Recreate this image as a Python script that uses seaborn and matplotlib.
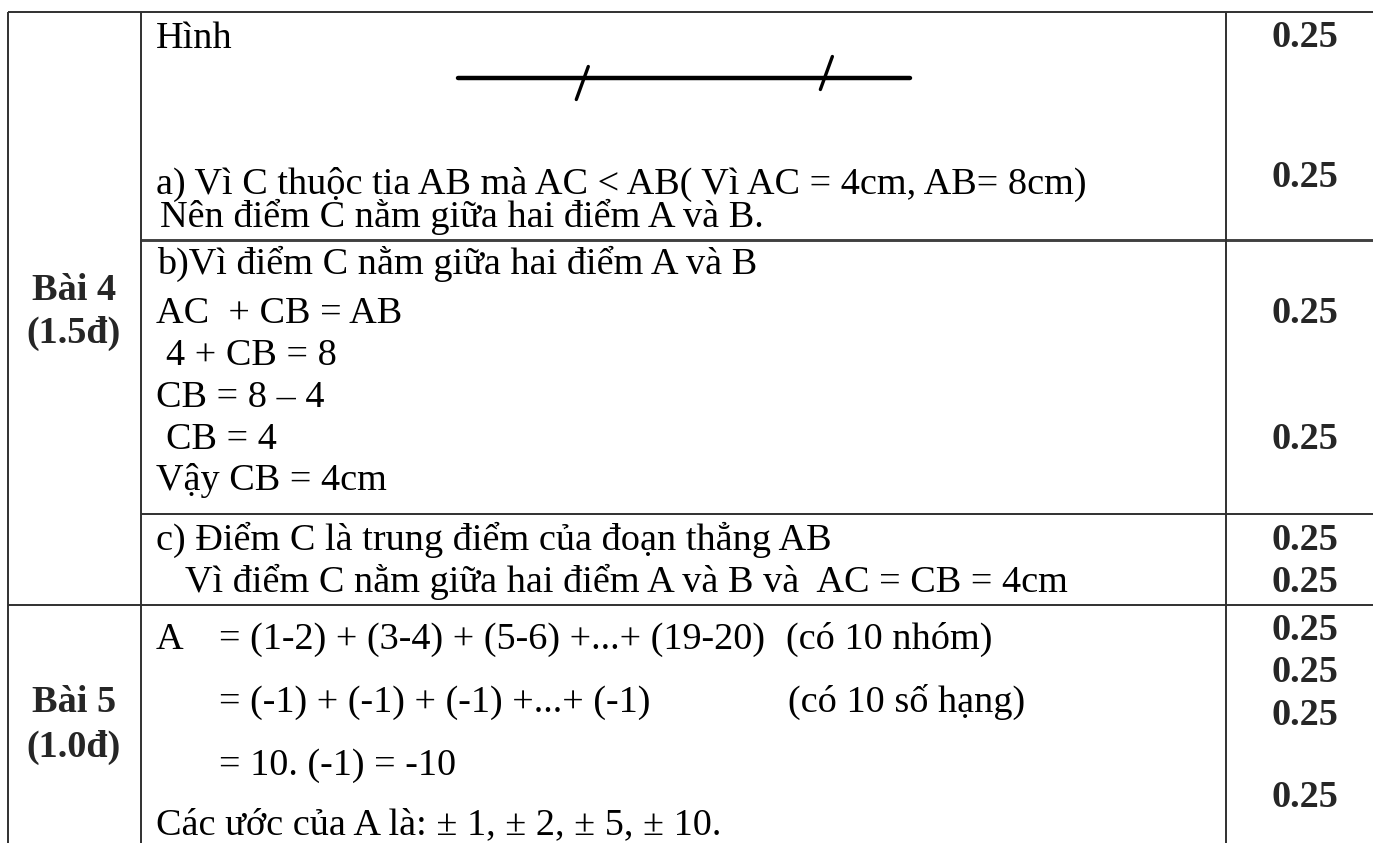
import matplotlib
matplotlib.use("Agg")
import matplotlib.pyplot as plt
import seaborn as sns
import pandas as pd

sns.set_theme(style="white")
plt.rcParams['font.family'] = ['Liberation Serif', 'DejaVu Serif']

# ---- content ----
section_labels = ["Bài 4", "(1.5đ)", "Bài 5", "(1.0đ)"]
content_lines = [
    "Hình",
    "a) Vì C thuộc tia AB mà AC < AB( Vì AC = 4cm, AB= 8cm)",
    "Nên điểm C nằm giữa hai điểm A và B.",
    "b)Vì điểm C nằm giữa hai điểm A và B",
    "AC  + CB = AB",
    "4 + CB = 8",
    "CB = 8 – 4",
    "CB = 4",
    "Vậy CB = 4cm",
    "c) Điểm C là trung điểm của đoạn thẳng AB",
    "Vì điểm C nằm giữa hai điểm A và B và  AC = CB = 4cm",
    "A",
    "= (1-2) + (3-4) + (5-6) +...+ (19-20)",
    "(có 10 nhóm)",
    "= (-1) + (-1) + (-1) +...+ (-1)",
    "(có 10 số hạng)",
    "= 10. (-1) = -10",
    "Các ước của A là: ± 1, ± 2, ± 5, ± 10.",
]
scores = ["0.25"] * 10

# segment figure: end points (relative 0..1) and the two equal-length tick marks
segment_pts = [0.0, 1.0]
tick_pts = [0.275, 0.815]

# ---- layout (pixels) ----
W, H = 1373, 843
fig = plt.figure(figsize=(W / 100, H / 100), dpi=100)
ax = fig.add_axes([0, 0, 1, 1])
ax.set_xlim(0, W)
ax.set_ylim(H, 0)
ax.axis("off")

FS = 27.5
line_col = "#303030"
lw = 1.4

content_x = [156, 156, 160, 157, 156, 166, 156, 166, 156, 156, 185,
             156, 219, 786, 219, 788, 219, 156]
content_y = [48, 194, 227, 274, 323, 365, 407, 449, 490, 550, 592,
             649, 649, 649, 712, 712, 775, 834]
for t, x, y in zip(content_lines, content_x, content_y):
    ax.text(x, y, t, fontsize=FS, ha="left", va="baseline", color="black")

label_y = [300, 343, 712, 757]
for t, y in zip(section_labels, label_y):
    ax.text(74, y, t, fontsize=FS, fontweight="bold", ha="center", va="baseline")

score_y = [47, 187, 323, 449, 550, 592, 640, 682, 725, 807]
for t, y in zip(scores, score_y):
    ax.text(1305, y, t, fontsize=FS, fontweight="bold", ha="center", va="baseline")

# table grid
ax.hlines(12, 8, W, color=line_col, lw=lw)
ax.hlines(240, 141, W, color="#404040", lw=lw * 1.5)
ax.hlines(514, 141, W, color=line_col, lw=lw)
ax.hlines(605, 8, W, color=line_col, lw=lw)
for x in [8, 141, 1226]:
    ax.vlines(x, 12, H, color=line_col, lw=lw)

# segment with equal-length tick marks
x0, x1, yl = 458, 910, 78
seg = pd.DataFrame({"x": [x0 + p * (x1 - x0) for p in segment_pts], "y": [yl, yl]})
sns.lineplot(data=seg, x="x", y="y", ax=ax, color="black", lw=3.2, sort=False)
tick_offsets = [5, -5]
for p, off in zip(tick_pts, tick_offsets):
    cx = x0 + p * (x1 - x0)
    cy = yl + off
    tk = pd.DataFrame({"x": [cx + 6, cx - 6], "y": [cy - 16.5, cy + 16.5]})
    sns.lineplot(data=tk, x="x", y="y", ax=ax, color="black", lw=2.4, sort=False)

ax.set_xlim(0, W)
ax.set_ylim(H, 0)
ax.axis("off")
fig.savefig("out.png", dpi=100, facecolor="white")
